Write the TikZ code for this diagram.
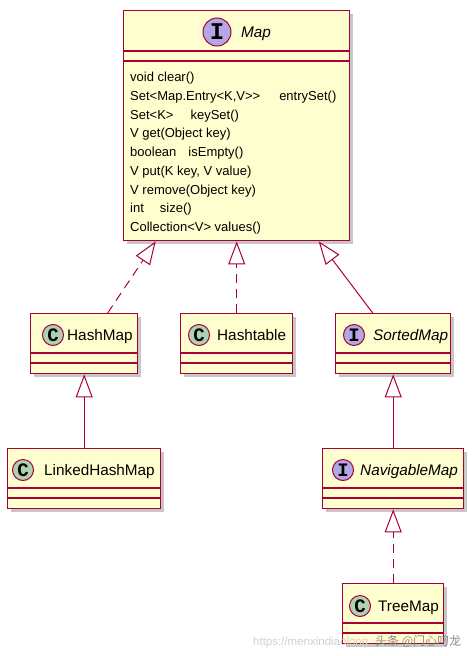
\documentclass[tikz,border=0pt]{standalone}
\usepackage{fontspec}
\setmainfont{Liberation Sans}
\setmonofont{Liberation Mono}
\newfontfamily\cjk{Noto Sans CJK SC}
\usepackage{tikz}
\usetikzlibrary{arrows.meta,shadows}

\definecolor{umlred}{HTML}{A80036}
\definecolor{umlfill}{HTML}{FEFECE}
\definecolor{ifill}{HTML}{B4A7E5}
\definecolor{cfill}{HTML}{ADD1B2}

\tikzset{
 classbox/.style={draw=umlred,fill=umlfill,line width=1.4pt,anchor=north west,inner sep=0pt,
  drop shadow={shadow xshift=3pt,shadow yshift=-3pt,fill=black,opacity=0.22}},
 divider/.style={draw=umlred,line width=1.2pt},
 stereo/.style={circle,draw=umlred,line width=1pt,inner sep=0pt,minimum size=21pt,
  font=\ttfamily\bfseries\fontsize{19}{19}\selectfont},
 classname/.style={anchor=base west,inner sep=0pt,font=\fontsize{15.3}{18}\selectfont},
 optext/.style={anchor=base west,inner sep=0pt,font=\fontsize{13}{18.75}\selectfont},
 extends/.style={draw=umlred,line width=1pt,-{Triangle[length=23pt,width=17pt,fill=white]}},
 realizes/.style={extends,dash pattern=on 9pt off 6pt},
}

\begin{document}
\begin{tikzpicture}[x=1pt,y=-1pt]
 \fill[white] (0,0) rectangle (475,656);
 \useasboundingbox (0,0) rectangle (475,656);

 % interface Map
 \node[classbox,minimum width=226pt,minimum height=230pt] (map) at (123,10) {};
 \draw[divider] ([yshift=-41pt]map.north west) -- ([yshift=-41pt]map.north east);
 \draw[divider] ([yshift=-51pt]map.north west) -- ([yshift=-51pt]map.north east);
 \node[stereo,fill=ifill,minimum size=28pt,font=\ttfamily\bfseries\fontsize{24}{24}\selectfont] (mapI) at (217,32) {I};
 \node[classname,font=\itshape\fontsize{15.3}{18}\selectfont] (mapname) at (241,37.5) {Map};
 \foreach \op [count=\i from 0] in {void clear(), {Set<Map.Entry<K,V>{}>\hspace{19pt}entrySet()},
   {Set<K>\hspace{17pt}keySet()}, V get(Object key), {boolean\hspace{12pt}isEmpty()},
   {V put(K key, V value)}, V remove(Object key), {int\hspace{16pt}size()}, Collection<V> values()}
  \node[optext] (op\i) at (130,{81.5+18.75*\i}) {\op};

 % classes and sub-interfaces
 \node[classbox,minimum width=107pt,minimum height=60pt] (hashmap) at (30,313) {};
 \node[classbox,minimum width=112pt,minimum height=60pt] (hashtable) at (180,313) {};
 \node[classbox,minimum width=115pt,minimum height=60pt] (sortedmap) at (335,313) {};
 \node[classbox,minimum width=153pt,minimum height=60pt] (linkedhashmap) at (7,448) {};
 \node[classbox,minimum width=141pt,minimum height=60pt] (navigablemap) at (322,448) {};
 \node[classbox,minimum width=101pt,minimum height=60pt] (treemap) at (342,583) {};
 \foreach \b in {hashmap,hashtable,sortedmap,linkedhashmap,navigablemap,treemap} {
  \draw[divider] ([yshift=-40pt]\b.north west) -- ([yshift=-40pt]\b.north east);
  \draw[divider] ([yshift=-50pt]\b.north west) -- ([yshift=-50pt]\b.north east);
 }

 \node[stereo,fill=cfill] (hashmapC) at (53,335) {C};
 \node[classname] (hashmapname) at (67,340.5) {HashMap};
 \node[stereo,fill=cfill] (hashtableC) at (199,335) {C};
 \node[classname] (hashtablename) at (217,340.5) {Hashtable};
 \node[stereo,fill=ifill] (sortedmapI) at (354,335) {I};
 \node[classname,font=\itshape\fontsize{15.3}{18}\selectfont] (sortedmapname) at (373,340.5) {SortedMap};
 \node[stereo,fill=cfill] (linkedhashmapC) at (23,470) {C};
 \node[classname] (linkedhashmapname) at (44,475.5) {LinkedHashMap};
 \node[stereo,fill=ifill] (navigablemapI) at (343,470) {I};
 \node[classname,font=\itshape\fontsize{15.3}{18}\selectfont] (navigablemapname) at (360,475.5) {NavigableMap};
 \node[stereo,fill=cfill] (treemapC) at (360,606) {C};
 \node[classname] (treemapname) at (378,611.5) {TreeMap};

 % inheritance
 \draw[realizes] ([xshift=23.5pt]hashmap.north) -- ([xshift=-81pt]map.south);
 \draw[realizes] (hashtable.north) -- (map.south);
 \draw[extends] ([xshift=-20.5pt]sortedmap.north) -- ([xshift=82pt]map.south);
 \draw[extends] (linkedhashmap.north) -- (hashmap.south);
 \draw[extends] (navigablemap.north) -- (sortedmap.south);
 \draw[realizes] (treemap.north) -- (navigablemap.south);

 % watermark
 \node[anchor=base west,inner sep=0pt,text=black!18,font=\fontsize{11.5}{12}\selectfont] (wmurl) at (253,645) {https://menxindiaolong};
 \node[anchor=base west,inner sep=0pt,text=black!45,font=\cjk\fontsize{12}{12}\selectfont] (wmname) at (375,645) {头条 @门心叼龙};
\end{tikzpicture}
\end{document}
